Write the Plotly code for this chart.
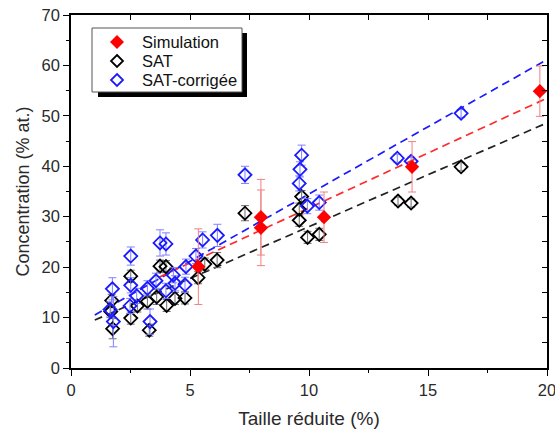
import plotly.graph_objects as go

# ---- data ----
sim_x = [5.35, 7.98, 7.98, 10.63, 14.33, 19.7]
sim_y = [20.1, 29.9, 27.8, 29.9, 39.9, 54.9]
sim_err = [7.5, 7.5, 7.5, 5.0, 5.0, 5.0]

sat_x = [1.71, 1.67, 1.75, 2.51, 2.51, 2.79, 3.29, 3.21, 3.60, 3.74, 3.99, 4.02,
         4.37, 4.79, 5.34, 5.62, 6.14, 7.31, 9.69, 9.59, 9.59, 9.94, 10.43,
         13.74, 14.29, 16.39]
sat_y = [13.4, 11.2, 7.8, 18.2, 9.9, 12.3, 7.5, 13.2, 14.1, 20.2, 20.1, 12.4,
         13.8, 13.9, 17.9, 20.6, 21.4, 30.7, 34.0, 31.5, 29.3, 25.9, 26.5,
         33.1, 32.7, 39.9]
sat_err = [1.2, 1.2, 2.0, 1.2, 1.2, 1.2, 1.2, 1.5, 1.5, 1.2, 1.2, 1.2,
           1.2, 1.2, 1.2, 1.2, 1.5, 1.5, 1.2, 1.2, 1.2, 1.2, 1.2,
           0.8, 0.8, 0.8]

cor_x = [1.74, 1.64, 1.78, 2.51, 2.51, 2.48, 2.76, 3.21, 3.32, 3.57, 3.74, 3.99,
         3.99, 4.30, 4.37, 4.79, 4.83, 5.25, 5.53, 6.15, 7.31, 9.69, 9.62, 9.59,
         9.93, 10.43, 13.71, 14.29, 16.39]
cor_y = [15.7, 11.6, 9.2, 22.2, 16.4, 12.3, 14.3, 15.8, 9.2, 17.3, 24.8, 24.6,
         15.3, 18.4, 16.8, 16.5, 20.1, 22.2, 25.4, 26.3, 38.3, 42.2, 39.4, 36.6,
         32.1, 32.8, 41.6, 41.0, 50.5]
cor_err = [2.2, 1.5, 5.0, 1.8, 1.5, 1.5, 1.5, 1.5, 2.5, 1.5, 2.6, 2.2,
           1.5, 1.5, 1.5, 1.5, 1.5, 1.5, 1.6, 2.2, 1.7, 2.0, 1.5, 1.5,
           1.5, 1.5, 0.8, 0.8, 0.8]

# dashed linear fits (end points)
fit_sim_x = [3.7, 19.9]
fit_sim_y = [18.0, 53.3]
fit_sat_x = [1.0, 19.95]
fit_sat_y = [9.5, 48.5]
fit_cor_x = [1.0, 19.9]
fit_cor_y = [10.5, 60.9]

legend_names = ["Simulation", "SAT", "SAT-corrigée"]
x_ticks = [0, 5, 10, 15, 20]
y_ticks = [0, 10, 20, 30, 40, 50, 60, 70]

FONT = "Arial, Liberation Sans, sans-serif"
RED, BLACK, BLUE = "#ff0000", "#000000", "#1a1aff"
DASH = "8px,5px"
TXT = "#2a2a2a"

fig = go.Figure()

# fit lines
fig.add_trace(go.Scatter(x=fit_sat_x, y=fit_sat_y, mode="lines",
                         line=dict(color="#222", width=1.7, dash=DASH),
                         showlegend=False, hoverinfo="skip"))
fig.add_trace(go.Scatter(x=fit_cor_x, y=fit_cor_y, mode="lines",
                         line=dict(color=BLUE, width=1.7, dash=DASH),
                         showlegend=False, hoverinfo="skip"))
fig.add_trace(go.Scatter(x=fit_sim_x, y=fit_sim_y, mode="lines",
                         line=dict(color="#ff2a2a", width=1.7, dash=DASH),
                         showlegend=False, hoverinfo="skip"))

# data
fig.add_trace(go.Scatter(
    x=sat_x, y=sat_y, mode="markers", name=legend_names[1], showlegend=False,
    marker=dict(symbol="diamond-open", size=10, color=BLACK, line=dict(width=1.8)),
    error_y=dict(type="data", array=sat_err, color="#707070", thickness=1, width=4)))
fig.add_trace(go.Scatter(
    x=cor_x, y=cor_y, mode="markers", name=legend_names[2], showlegend=False,
    marker=dict(symbol="diamond-open", size=10, color=BLUE, line=dict(width=1.8)),
    error_y=dict(type="data", array=cor_err, color="#8080ff", thickness=1, width=4)))
fig.add_trace(go.Scatter(
    x=sim_x, y=sim_y, mode="markers", name=legend_names[0], showlegend=False,
    marker=dict(symbol="diamond", size=11, color=RED, line=dict(width=0)),
    error_y=dict(type="data", array=sim_err, color="#f08080", thickness=1, width=4)))

# invisible trace to activate the mirrored axes
fig.add_trace(go.Scatter(x=[None], y=[None], xaxis="x2", yaxis="y2",
                         showlegend=False, hoverinfo="skip"))

axis_common = dict(showline=True, linecolor="black", linewidth=1.5,
                   showgrid=False, zeroline=False, automargin=False,
                   tickfont=dict(family=FONT, size=16.5, color=TXT),
                   ticklen=6, tickwidth=1.2, tickcolor="black")
mirror_common = dict(showline=True, linecolor="black", linewidth=1.5, showgrid=False,
                     zeroline=False, showticklabels=False, ticks="inside", ticklen=5,
                     tickcolor="black", tickwidth=1.2, automargin=False)

fig.update_layout(
    width=555, height=432,
    margin=dict(l=71, r=8, t=15, b=64, autoexpand=False),
    paper_bgcolor="white", plot_bgcolor="white",
    font=dict(family=FONT, size=16, color=TXT),
    showlegend=False,
    xaxis=dict(range=[0, 20], tickvals=x_ticks, ticks="outside",
               ticklabeloverflow="allow",
               minor=dict(dtick=2.5, tick0=0, ticks="outside", ticklen=3,
                          tickcolor="black", tickwidth=1.2),
               title=dict(text="Taille réduite (%)", font=dict(size=19, family=FONT, color=TXT),
                          standoff=14),
               **axis_common),
    yaxis=dict(range=[0, 70], tickvals=y_ticks, ticks="outside",
               minor=dict(dtick=5, tick0=0, ticks="outside", ticklen=3,
                          tickcolor="black", tickwidth=1.2),
               title=dict(text="Concentration (% at.)", font=dict(size=18, family=FONT, color=TXT),
                          standoff=7),
               **axis_common),
    xaxis2=dict(range=[0, 20], overlaying="x", side="top", anchor="y",
                tickvals=[0, 2.5, 5, 7.5, 10, 12.5, 15, 17.5, 20], **mirror_common),
    yaxis2=dict(range=[0, 70], overlaying="y", side="right", anchor="x",
                tickvals=[0, 5, 10, 15, 20, 25, 30, 35, 40, 45, 50, 55, 60, 65, 70],
                **mirror_common),
)

# ---- hand-drawn legend frame with shadow ----
def px_x(p):
    return (p - 71) / 476

def px_y(p):
    return (368 - p) / 353

fig.add_shape(type="rect", xref="paper", yref="paper",
              x0=px_x(98), x1=px_x(247), y0=px_y(97), y1=px_y(33),
              fillcolor="black", line=dict(width=0))
fig.add_shape(type="rect", xref="paper", yref="paper",
              x0=px_x(92), x1=px_x(242), y0=px_y(92), y1=px_y(28),
              fillcolor="white", line=dict(color="#555", width=1))

legend_rows = [42, 61, 80]
legend_styles = [dict(fill=RED, line=RED, half=7),
                 dict(fill="white", line=BLACK, half=6),
                 dict(fill="white", line=BLUE, half=6)]
for name, row, st in zip(legend_names, legend_rows, legend_styles):
    h = st["half"]
    fig.add_shape(type="path", xref="paper", yref="paper",
                  xsizemode="pixel", ysizemode="pixel",
                  xanchor=px_x(117), yanchor=px_y(row),
                  path=f"M 0,{h} L {h},0 L 0,{-h} L {-h},0 Z",
                  fillcolor=st["fill"],
                  line=dict(color=st["line"], width=1.8 if st["fill"] == "white" else 0))
    fig.add_annotation(xref="paper", yref="paper", x=px_x(140), y=px_y(row),
                       xanchor="left", yanchor="middle", showarrow=False,
                       text=name, font=dict(family=FONT, size=16.5, color="#111"))

fig.write_html("out.html", config={"displayModeBar": False},
               post_script="document.body.style.margin='0px';document.body.style.overflow='hidden';")
